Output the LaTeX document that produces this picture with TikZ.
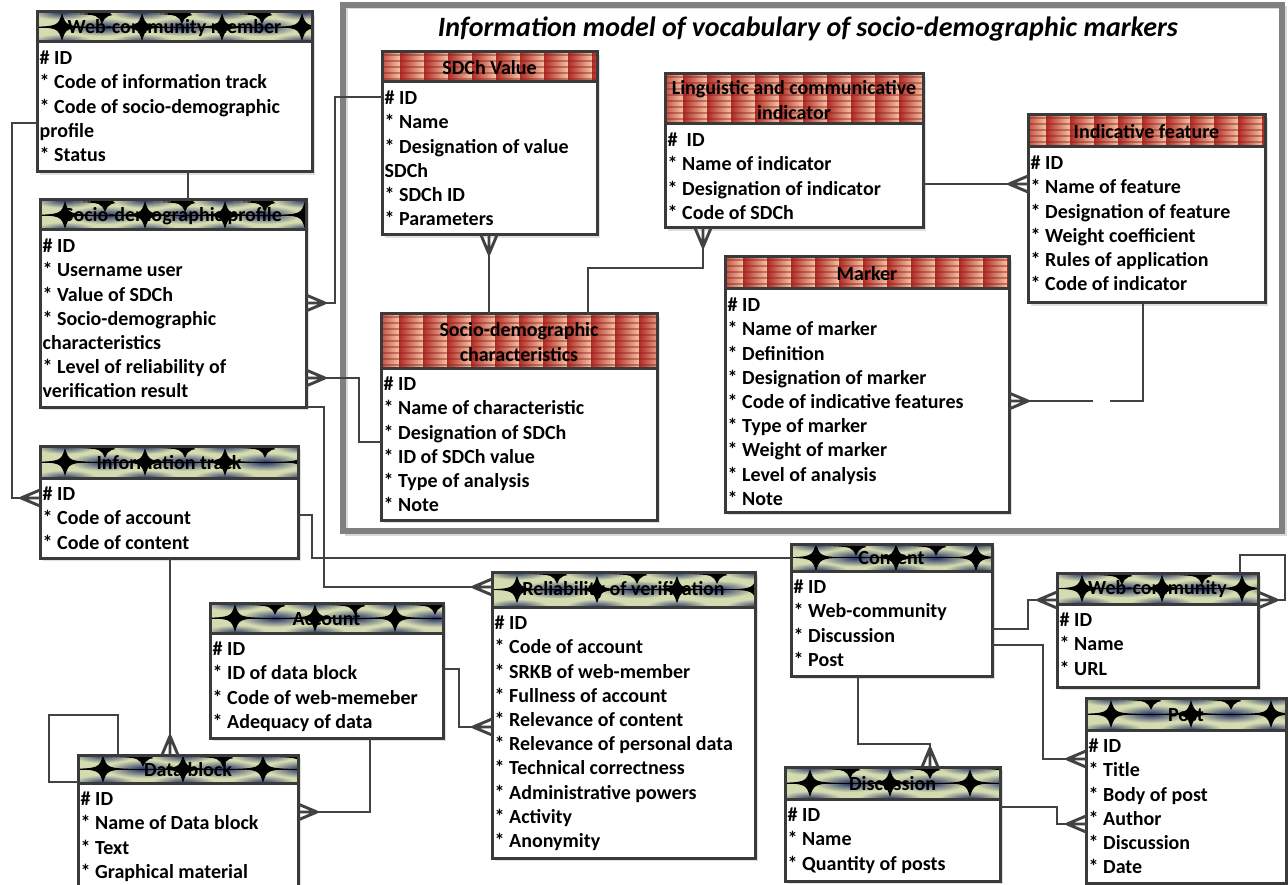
\documentclass[tikz,border=0pt]{standalone}
\usepackage{fontspec}
\setmainfont{Carlito}
\usetikzlibrary{calc}
\definecolor{boxline}{RGB}{58,58,58}
\definecolor{connc}{RGB}{66,66,66}
\definecolor{gbg}{RGB}{212,219,176}
\definecolor{gblue}{RGB}{30,44,100}
\definecolor{rdark}{RGB}{178,42,36}
\definecolor{rlight}{RGB}{244,196,166}
\definecolor{framec}{RGB}{128,128,128}
\tikzset{
  conn/.style={draw=connc, line width=2.9pt, line join=miter},
  frameb/.style={draw=boxline, line width=3pt, rectangle, inner sep=0pt, outer sep=0pt},
  ttl/.style={font=\fontsize{20}{24.2}\selectfont\bfseries, align=center, inner sep=0pt},
  bodytxt/.style={font=\fontsize{20}{24.2}\selectfont\bfseries, align=left, inner sep=0pt, anchor=north west},
}
\newcommand\greenhead[4]{%
  \begin{scope}
  \clip (#1,#2) rectangle ++(#3,#4);
  \fill[gbg] (#1,#2) rectangle ++(#3,#4);
  \pgfmathsetmacro\my{#2+#4/2}
  \foreach \k in {0,...,4}{
    \pgfmathsetmacro\ca{#1+25+80*\k}
    \pgfmathsetmacro\cb{#1+65+80*\k}
    \shade[inner color=gblue, outer color=gbg] (\cb,\my) ellipse (36 and 9);
    \shade[inner color=gblue, outer color=gbg] (\ca,#2+#4) ellipse (32 and 8);
    \shade[inner color=gblue, outer color=gbg] (\ca,#2) ellipse (32 and 8);
    \fill[black] (\ca-32,\my) .. controls (\ca-4,\my-1) .. (\ca,\my-14) .. controls (\ca+4,\my-1) .. (\ca+32,\my) .. controls (\ca+4,\my+1) .. (\ca,\my+14) .. controls (\ca-4,\my+1) .. (\ca-32,\my) -- cycle;
    \fill[black] (\cb-28,#2+2) .. controls (\cb-4,#2+1) .. (\cb,#2-9) .. controls (\cb+4,#2+1) .. (\cb+28,#2+2) .. controls (\cb+4,#2+3) .. (\cb,#2+12) .. controls (\cb-4,#2+3) .. (\cb-28,#2+2) -- cycle;
  }
  \draw[black, line width=0.8pt] (#1,\my) -- ++(#3,0);
  \end{scope}}
\newcommand\redhead[4]{%
  \begin{scope}
  \clip (#1,#2) rectangle ++(#3,#4);
  \foreach \k in {0,...,12}{
    \pgfmathsetmacro\cx{#1-6+24*\k}
    \shade[left color=rdark, right color=rlight] (\cx,#2) rectangle ++(24,#4);
  }
  \foreach \j in {0,...,9}{
    \draw[rdark!80!black, opacity=0.45, line width=1.2pt] (#1,#2+3+6*\j) -- ++(#3,0);
  }
  \end{scope}}
% name, x, y, w, h, header height, header kind, title, body
\newcommand\erbox[9]{%
  \fill[black!12] (#2+3,#3+3) rectangle ++(#4,#5);
  \fill[white] (#2,#3) rectangle ++(#4,#5);
  \csname#7head\endcsname{#2}{#3}{#4}{#6}
  \node[frameb, minimum width=#4pt, minimum height=#5pt, anchor=north west] (#1) at (#2,#3) {};
  \draw[boxline, line width=3pt] (#2,#3+#6) -- ++(#4,0);
  \node[ttl] at (#2+#4/2, #3+#6/2+1) {#8};
  \node[bodytxt] at (#2+2.5,#3+#6) {\rule{0pt}{22.5pt}#9};
}
\newcommand\crow[2]{%
  \draw[conn] ($#1+(#2:19)$) -- #1
              ($#1+(#2:19)$) -- ($#1+(#2+90:8)$)
              ($#1+(#2:19)$) -- ($#1+(#2-90:8)$);}
\begin{document}
\begin{tikzpicture}[x=1pt,y=-1pt]
\useasboundingbox (0,0) rectangle (1288,885);
\fill[white] (0,0) rectangle (1288,885);
% outer frame
\draw[black!15, line width=3pt] (346,8) rectangle (1285,534);
\draw[framec, line width=6pt] (343,5) rectangle (1282,531);
\node[font=\fontsize{28}{32}\selectfont\bfseries\itshape, anchor=base, inner sep=0pt] (ttlmain) at (808,37) {Information model of vocabulary of socio-demographic markers};
% entities
\erbox{wcm}{37}{12}{275}{160}{30}{green}{Web-community member}{\# ID\\{}* Code of information track\\{}* Code of socio-demographic\\profile\\{}* Status}
\erbox{sdp}{40}{200}{266}{207}{30}{green}{Socio-demographic profile}{\# ID\\{}* Username user\\{}* Value of SDCh\\{}* Socio-demographic\\characteristics\\{}* Level of reliability of\\verification result}
\erbox{sdv}{382}{52}{215}{183}{30}{red}{SDCh Value}{\# ID\\{}* Name\\{}* Designation of value\\SDCh\\{}* SDCh ID\\{}* Parameters}
\erbox{lci}{665}{74}{258}{154}{50}{red}{Linguistic and communicative\\indicator}{\#\ \ ID\\{}* Name of indicator\\{}* Designation of indicator\\{}* Code of SDCh}
\erbox{indf}{1028}{115}{237}{188}{32}{red}{Indicative feature}{\# ID\\{}* Name of feature\\{}* Designation of feature\\{}* Weight coefficient\\{}* Rules of application\\{}* Code of indicator}
\erbox{mark}{725}{257}{284}{255}{32}{red}{Marker}{\# ID\\{}* Name of marker\\{}* Definition\\{}* Designation of marker\\{}* Code of indicative features\\{}* Type of marker\\{}* Weight of marker\\{}* Level of analysis\\{}* Note}
\erbox{sdc}{381}{314}{276}{206}{54}{red}{Socio-demographic\\characteristics}{\# ID\\{}* Name of characteristic\\{}* Designation of SDCh\\{}* ID of SDCh value\\{}* Type of analysis\\{}* Note}
\erbox{itr}{40}{446}{258}{112}{32}{green}{Information track}{\# ID\\{}* Code of account\\{}* Code of content}
\erbox{acc}{210}{603}{233}{135}{30}{green}{Account}{\# ID\\{}* ID of data block\\{}* Code of web-memeber\\{}* Adequacy of data}
\erbox{dblk}{78}{755}{220}{140}{28}{green}{Data block}{\# ID\\{}* Name of Data block\\{}* Text\\{}* Graphical material}
\erbox{rel}{492}{572}{263}{286}{35}{green}{Reliability of verification}{\# ID\\{}* Code of account\\{}* SRKB of web-member\\{}* Fullness of account\\{}* Relevance of content\\{}* Relevance of personal data\\{}* Technical correctness\\{}* Administrative powers\\{}* Activity\\{}* Anonymity}
\erbox{cont}{791}{544}{201}{132}{27}{green}{Content}{\# ID\\{}* Web-community\\{}* Discussion\\{}* Post}
\erbox{wcom}{1057}{573}{201}{114}{31}{green}{Web-community}{\# ID\\{}* Name\\{}* URL}
\erbox{post}{1086}{698}{200}{185}{32}{green}{Post}{\# ID\\{}* Title\\{}* Body of post\\{}* Author\\{}* Discussion\\{}* Date}
\erbox{disc}{785}{767}{215}{114}{32}{green}{Discussion}{\# ID\\{}* Name\\{}* Quantity of posts}
% connectors
\draw[conn] (188,0 |- wcm.south) -- (188,0 |- sdp.north);
\coordinate (e2) at (itr.west |- 0,498);
\draw[conn] (wcm.west |- 0,123) -- (12,123) -- (12,498) -- (e2); \crow{(e2)}{180}
\coordinate (e3) at (sdp.east |- 0,303);
\draw[conn] (sdv.west |- 0,97) -- (335,97) -- (335,303) -- (e3); \crow{(e3)}{0}
\coordinate (e4) at (sdp.east |- 0,378);
\draw[conn] (sdc.west |- 0,442) -- (359,442) -- (359,378) -- (e4); \crow{(e4)}{0}
\coordinate (e5) at (rel.west |- 0,587);
\draw[conn] (sdp.south east) -- (324,0 |- sdp.south) -- (324,587) -- (e5); \crow{(e5)}{180}
\draw[conn] (itr.east |- 0,515) -- (312,515) -- (312,558) -- (cont.west |- 0,558);
\coordinate (e7) at (170,0 |- dblk.north);
\draw[conn] (170,0 |- itr.south) -- (e7); \crow{(e7)}{270}
\draw[conn] (dblk.west |- 0,782) -- (49,782) -- (49,715) -- (118,715) -- (118,0 |- dblk.north);
\coordinate (e9) at (dblk.east |- 0,812);
\draw[conn] (370,0 |- acc.south) -- (370,812) -- (e9); \crow{(e9)}{0}
\coordinate (e10) at (rel.west |- 0,727);
\draw[conn] (acc.east |- 0,669) -- (459,669) -- (459,727) -- (e10); \crow{(e10)}{180}
\coordinate (e11) at (wcom.west |- 0,600);
\draw[conn] (cont.east |- 0,629) -- (1028,629) -- (1028,600) -- (e11); \crow{(e11)}{180}
\coordinate (e12) at (wcom.east |- 0,600);
\draw[conn] (1240,0 |- wcom.north) -- (1240,555) -- (1285,555) -- (1285,600) -- (e12); \crow{(e12)}{0}
\coordinate (e13) at (post.west |- 0,759);
\draw[conn] (cont.east |- 0,645) -- (1043,645) -- (1043,759) -- (e13); \crow{(e13)}{180}
\coordinate (e14) at (930,0 |- disc.north);
\draw[conn] (858,0 |- cont.south) -- (858,744) -- (930,744) -- (e14); \crow{(e14)}{270}
\coordinate (e15) at (post.west |- 0,824);
\draw[conn] (disc.east |- 0,807) -- (1057,807) -- (1057,824) -- (e15); \crow{(e15)}{180}
\coordinate (e16) at (489,0 |- sdv.south);
\draw[conn] (e16) -- (489,0 |- sdc.north); \crow{(e16)}{90}
\coordinate (e17) at (703,0 |- lci.south);
\draw[conn] (588,0 |- sdc.north) -- (588,268) -- (703,268) -- (e17); \crow{(e17)}{90}
\coordinate (e18) at (indf.west |- 0,184);
\draw[conn] (lci.east |- 0,184) -- (e18); \crow{(e18)}{180}
\coordinate (e19) at (mark.east |- 0,401);
\coordinate (gapa) at (1110,401);
\coordinate (gapb) at (1093,401);
\draw[conn] (1143,0 |- indf.south) -- (1143,401) -- (gapa);
\draw[conn] (gapb) -- (e19); \crow{(e19)}{0}
\end{tikzpicture}
\end{document}
